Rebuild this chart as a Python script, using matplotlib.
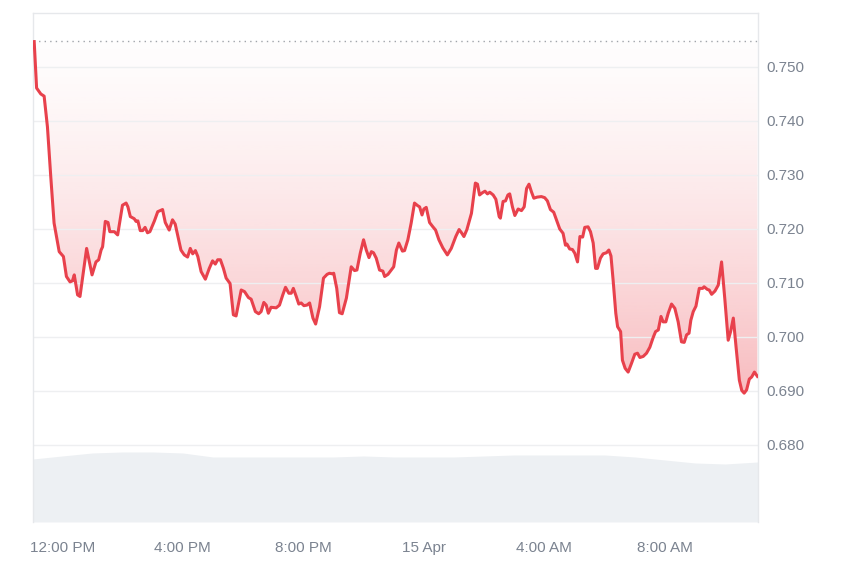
import numpy as np
import matplotlib
matplotlib.use("Agg")
import matplotlib.pyplot as plt

plt.rcParams['font.family'] = ['Liberation Sans', 'DejaVu Sans']

# price, hours since 00:00 on 14 Apr
hours = [11.07, 11.15, 11.29, 11.40, 11.51, 11.62, 11.73, 11.90, 12.04, 12.14,
         12.26, 12.34, 12.40, 12.51, 12.59, 12.81, 12.99, 13.12, 13.21, 13.29,
         13.34, 13.43, 13.52, 13.58, 13.73, 13.84, 14.00, 14.12, 14.18, 14.26,
         14.39, 14.45, 14.51, 14.59, 14.67, 14.75, 14.83, 14.91, 15.06, 15.17,
         15.33, 15.42, 15.55, 15.66, 15.75, 15.94, 16.05, 16.16, 16.25, 16.33,
         16.42, 16.50, 16.61, 16.75, 16.88, 16.99, 17.08, 17.16, 17.25, 17.35,
         17.44, 17.57, 17.68, 17.77, 17.94, 18.05, 18.18, 18.27, 18.41, 18.52,
         18.60, 18.69, 18.77, 18.84, 18.93, 19.10, 19.21, 19.32, 19.41, 19.52,
         19.60, 19.67, 19.76, 19.85, 19.93, 20.02, 20.12, 20.21, 20.32, 20.41,
         20.54, 20.67, 20.79, 20.87, 20.96, 21.01, 21.11, 21.20, 21.29, 21.43,
         21.59, 21.70, 21.78, 21.89, 22.00, 22.09, 22.18, 22.26, 22.33, 22.42,
         22.53, 22.64, 22.70, 22.81, 22.92, 23.00, 23.09, 23.17, 23.29, 23.36,
         23.47, 23.58, 23.69, 23.80, 23.86, 23.94, 24.00, 24.08, 24.19, 24.30,
         24.39, 24.50, 24.63, 24.78, 24.91, 25.06, 25.17, 25.25, 25.33, 25.43,
         25.58, 25.71, 25.78, 25.85, 25.94, 26.03, 26.11, 26.19, 26.30, 26.39,
         26.50, 26.54, 26.63, 26.71, 26.79, 26.85, 26.94, 27.02, 27.13, 27.24,
         27.33, 27.41, 27.49, 27.57, 27.65, 27.76, 27.90, 28.01, 28.10, 28.20,
         28.31, 28.40, 28.51, 28.62, 28.70, 28.75, 28.84, 28.93, 29.01, 29.10,
         29.18, 29.27, 29.34, 29.45, 29.53, 29.62, 29.70, 29.76, 29.86, 29.95,
         30.06, 30.14, 30.21, 30.28, 30.37, 30.43, 30.53, 30.59, 30.68, 30.78,
         30.89, 31.00, 31.09, 31.17, 31.28, 31.39, 31.50, 31.61, 31.69, 31.78,
         31.87, 31.94, 32.03, 32.11, 32.22, 32.33, 32.44, 32.55, 32.64, 32.72,
         32.80, 32.86, 32.94, 33.03, 33.14, 33.25, 33.30, 33.41, 33.47, 33.55,
         33.66, 33.77, 33.88, 33.99, 34.10, 34.18, 34.27, 34.36, 34.47, 34.55,
         34.63, 34.71, 34.80, 34.88, 34.97, 35.07]

price = [0.7547, 0.7461, 0.7450, 0.7446, 0.7389, 0.7297, 0.7211, 0.7158, 0.7149, 0.7112,
         0.7102, 0.7104, 0.7115, 0.7078, 0.7075, 0.7164, 0.7115, 0.7139, 0.7143, 0.7161,
         0.7167, 0.7214, 0.7212, 0.7195, 0.7195, 0.7189, 0.7244, 0.7248, 0.7241, 0.7223,
         0.7219, 0.7214, 0.7215, 0.7197, 0.7197, 0.7203, 0.7193, 0.7195, 0.7215, 0.7232,
         0.7236, 0.7212, 0.7198, 0.7217, 0.7209, 0.7161, 0.7152, 0.7148, 0.7164, 0.7154,
         0.7160, 0.7149, 0.7121, 0.7107, 0.7127, 0.7141, 0.7135, 0.7143, 0.7143, 0.7127,
         0.7109, 0.7099, 0.7041, 0.7039, 0.7087, 0.7084, 0.7073, 0.7070, 0.7047, 0.7043,
         0.7047, 0.7064, 0.7059, 0.7044, 0.7055, 0.7054, 0.7059, 0.7078, 0.7092, 0.7081,
         0.7081, 0.7090, 0.7076, 0.7061, 0.7063, 0.7058, 0.7059, 0.7063, 0.7035, 0.7024,
         0.7056, 0.7109, 0.7116, 0.7118, 0.7117, 0.7118, 0.7090, 0.7045, 0.7043, 0.7072,
         0.7130, 0.7123, 0.7124, 0.7155, 0.7180, 0.7161, 0.7147, 0.7158, 0.7156, 0.7146,
         0.7124, 0.7122, 0.7112, 0.7116, 0.7124, 0.7130, 0.7161, 0.7174, 0.7159, 0.7160,
         0.7180, 0.7211, 0.7248, 0.7243, 0.7241, 0.7226, 0.7237, 0.7240, 0.7212, 0.7204,
         0.7198, 0.7180, 0.7165, 0.7152, 0.7164, 0.7186, 0.7199, 0.7193, 0.7186, 0.7199,
         0.7229, 0.7285, 0.7283, 0.7263, 0.7267, 0.7270, 0.7265, 0.7268, 0.7263, 0.7255,
         0.7223, 0.7220, 0.7251, 0.7252, 0.7263, 0.7265, 0.7241, 0.7225, 0.7237, 0.7234,
         0.7241, 0.7275, 0.7283, 0.7269, 0.7257, 0.7259, 0.7260, 0.7258, 0.7252, 0.7236,
         0.7231, 0.7217, 0.7200, 0.7192, 0.7170, 0.7172, 0.7163, 0.7162, 0.7155, 0.7139,
         0.7186, 0.7185, 0.7203, 0.7204, 0.7195, 0.7174, 0.7127, 0.7127, 0.7146, 0.7154,
         0.7156, 0.7161, 0.7150, 0.7106, 0.7044, 0.7019, 0.7010, 0.6957, 0.6942, 0.6935,
         0.6951, 0.6968, 0.6970, 0.6962, 0.6964, 0.6970, 0.6981, 0.6999, 0.7010, 0.7013,
         0.7038, 0.7028, 0.7028, 0.7044, 0.7061, 0.7053, 0.7028, 0.6991, 0.6990, 0.7004,
         0.7007, 0.7031, 0.7047, 0.7057, 0.7090, 0.7090, 0.7093, 0.7088, 0.7087, 0.7079,
         0.7085, 0.7096, 0.7139, 0.7069, 0.6994, 0.7010, 0.7035, 0.6982, 0.6920, 0.6901,
         0.6896, 0.6902, 0.6922, 0.6926, 0.6935, 0.6927]

open_price = 0.7548

# volume (hourly, arbitrary units)
vol_hours = [11.03, 12, 13, 14, 15, 16, 17, 18, 19, 20, 21, 22, 23,
             24, 25, 26, 27, 28, 29, 30, 31, 32, 33, 34, 35.09]
volume = [63, 66, 69, 70, 70, 69, 65, 65, 65, 65, 65, 66, 65,
          65, 65, 66, 67, 67, 67, 67, 65, 62, 59, 58, 60]

xticks = [12, 16, 20, 24, 28, 32]
xlabels = ['12:00 PM', '4:00 PM', '8:00 PM', '15 Apr', '4:00 AM', '8:00 AM']
yticks = [0.680, 0.690, 0.700, 0.710, 0.720, 0.730, 0.740, 0.750]

red = '#e8414c'
grey_txt = '#7b8390'
grid_c = '#eeeff1'

x0, x1 = 11.03, 35.09
fig = plt.figure(figsize=(8.5, 5.67), dpi=100)
pos = [0.0388, 0.0794, 0.8530, 0.8977]

# volume in the background
axv = fig.add_axes(pos)
axv.fill_between(vol_hours, volume, 0, color='#edf0f3', linewidth=0)
axv.set_xlim(x0, x1)
axv.set_ylim(0, 509)
axv.axis('off')

ax = fig.add_axes(pos)
ax.patch.set_alpha(0)

# gradient between the line and the opening price
poly = ax.fill_between(hours, price, open_price, facecolor='none', linewidth=0)
pmin = min(price)
n = 256
f = np.linspace(0, 1, n).reshape(-1, 1)  # 0 at top, 1 at bottom
rgba = np.zeros((n, 1, 4))
rgba[..., 0] = 234 / 255
rgba[..., 1] = 57 / 255
rgba[..., 2] = 67 / 255
rgba[..., 3] = 0.01 + 0.33 * f ** 1.4
im = ax.imshow(rgba, extent=[x0, x1, pmin, open_price], aspect='auto',
               origin='upper', zorder=0.2)
im.set_clip_path(poly.get_paths()[0], transform=ax.transData)

ax.axhline(open_price, color='#a0a4aa', linestyle=(0, (1, 3)), linewidth=1.0, zorder=2)
ax.plot(hours, price, color=red, linewidth=2.2, zorder=3, solid_joinstyle='round')

ax.set_xlim(x0, x1)
ax.set_ylim(0.66574, 0.7600)
ax.set_yticks(yticks)
ax.set_yticklabels(['%.3f' % v for v in yticks])
ax.yaxis.tick_right()
ax.set_xticks(xticks)
ax.set_xticklabels(xlabels)
ax.tick_params(axis='both', length=0, labelsize=11, colors=grey_txt)
ax.tick_params(axis='y', pad=6)
ax.tick_params(axis='x', pad=14)
ax.grid(axis='y', color=grid_c, linewidth=1.0)
ax.set_axisbelow(True)

for side in ['left', 'top', 'right']:
    ax.spines[side].set_color('#e6e8eb')
    ax.spines[side].set_linewidth(1.0)
ax.spines['bottom'].set_visible(False)

fig.savefig('out.png', dpi=100)
